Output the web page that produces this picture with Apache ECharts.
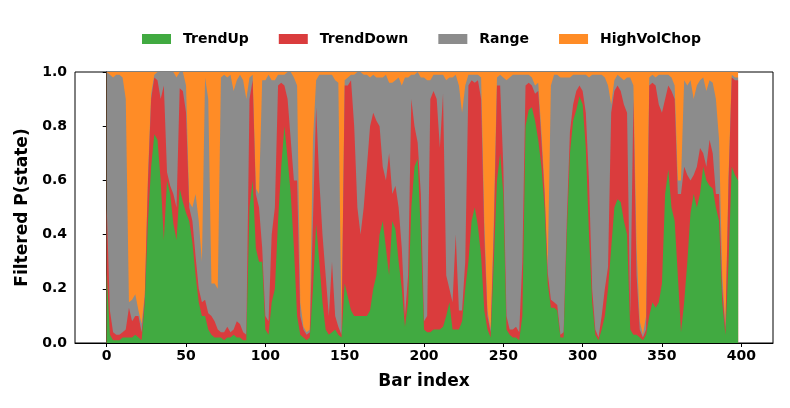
<!DOCTYPE html>
<html>
<head>
<meta charset="utf-8">
<script src="https://cdn.jsdelivr.net/npm/echarts@6/dist/echarts.min.js"></script>
<style>
  html, body { margin: 0; padding: 0; background: #fff; }
  #chart-container { width: 790px; height: 408px; }
</style>
</head>
<body>
<div id="chart-container"></div>
<script>
// bar index of each sample (every second bar)
const barIndex = [
  0,2,4,6,8,10,12,14,16,18,20,22,24,26,28,30,32,34,36,38,40,42,44,46,48,50,52,54,56,58,60,62,64,66,68,70,72,74,76,78,
  80,82,84,86,88,90,92,94,96,98,100,102,104,106,108,110,112,114,116,118,120,122,124,126,128,130,132,134,136,138,140,142,144,146,148,150,152,154,156,158,
  160,162,164,166,168,170,172,174,176,178,180,182,184,186,188,190,192,194,196,198,200,202,204,206,208,210,212,214,216,218,220,222,224,226,228,230,232,234,236,238,
  240,242,244,246,248,250,252,254,256,258,260,262,264,266,268,270,272,274,276,278,280,282,284,286,288,290,292,294,296,298,300,302,304,306,308,310,312,314,316,318,
  320,322,324,326,328,330,332,334,336,338,340,342,344,346,348,350,352,354,356,358,360,362,364,366,368,370,372,374,376,378,380,382,384,386,388,390,392,394,396,398
];

const trendUp = [
  0.26,0.03,0.01,0.01,0.01,0.02,0.02,0.02,0.02,0.03,0.02,0.01,0.15,0.45,0.65,0.77,0.75,0.60,0.38,0.60,0.55,0.44,0.38,0.57,0.52,0.48,0.45,0.37,0.25,0.15,0.10,0.10,0.05,0.03,0.02,0.02,0.02,0.01,0.02,0.02,
  0.03,0.02,0.02,0.01,0.01,0.50,0.60,0.35,0.30,0.30,0.05,0.03,0.15,0.20,0.45,0.65,0.80,0.68,0.55,0.35,0.10,0.03,0.02,0.01,0.02,0.20,0.44,0.30,0.15,0.05,0.03,0.04,0.05,0.03,0.02,0.22,0.17,0.12,0.10,0.10,
  0.10,0.10,0.10,0.12,0.20,0.25,0.40,0.45,0.35,0.25,0.45,0.42,0.30,0.20,0.06,0.15,0.50,0.65,0.68,0.40,0.05,0.04,0.04,0.05,0.05,0.05,0.06,0.10,0.15,0.05,0.05,0.05,0.08,0.20,0.30,0.45,0.50,0.43,0.32,0.12,
  0.05,0.02,0.30,0.60,0.70,0.55,0.05,0.03,0.02,0.02,0.01,0.10,0.80,0.86,0.87,0.82,0.75,0.65,0.50,0.22,0.13,0.13,0.12,0.02,0.02,0.40,0.70,0.82,0.86,0.91,0.88,0.72,0.40,0.15,0.03,0.01,0.05,0.10,0.20,0.35,
  0.50,0.53,0.52,0.45,0.40,0.05,0.03,0.03,0.02,0.01,0.03,0.10,0.15,0.13,0.15,0.22,0.55,0.64,0.50,0.45,0.25,0.04,0.15,0.30,0.48,0.55,0.50,0.55,0.65,0.60,0.58,0.57,0.50,0.45,0.15,0.03,0.30,0.65,0.62,0.60
];

const trendDown = [
  0.24,0.09,0.03,0.02,0.02,0.02,0.03,0.11,0.06,0.07,0.08,0.03,0.02,0.15,0.25,0.21,0.22,0.30,0.57,0.03,0.03,0.11,0.12,0.37,0.41,0.37,0.05,0.08,0.07,0.05,0.05,0.06,0.06,0.07,0.06,0.03,0.02,0.03,0.04,0.02,
  0.02,0.06,0.05,0.03,0.02,0.40,0.37,0.20,0.20,0.05,0.05,0.05,0.25,0.30,0.50,0.31,0.15,0.22,0.20,0.25,0.50,0.07,0.03,0.02,0.02,0.25,0.43,0.30,0.25,0.20,0.07,0.26,0.05,0.03,0.01,0.73,0.78,0.85,0.70,0.40,
  0.30,0.40,0.55,0.68,0.65,0.57,0.40,0.20,0.25,0.45,0.10,0.16,0.20,0.15,0.04,0.10,0.40,0.15,0.06,0.15,0.03,0.06,0.86,0.88,0.85,0.67,0.86,0.15,0.05,0.10,0.35,0.07,0.04,0.10,0.65,0.52,0.46,0.54,0.58,0.28,
  0.05,0.02,0.10,0.35,0.25,0.10,0.05,0.02,0.03,0.04,0.03,0.20,0.15,0.10,0.08,0.10,0.18,0.10,0.05,0.04,0.03,0.02,0.02,0.01,0.02,0.05,0.08,0.06,0.07,0.04,0.05,0.13,0.20,0.05,0.02,0.01,0.05,0.10,0.08,0.50,
  0.43,0.42,0.41,0.43,0.45,0.05,0.87,0.22,0.03,0.01,0.02,0.85,0.81,0.82,0.73,0.63,0.35,0.31,0.43,0.45,0.30,0.51,0.50,0.32,0.12,0.07,0.15,0.17,0.05,0.05,0.17,0.13,0.05,0.10,0.05,0.02,0.30,0.33,0.35,0.37
];

const rangeState = [
  0.50,0.87,0.94,0.96,0.96,0.94,0.85,0.02,0.08,0.08,0.02,0.03,0.01,0.02,0.02,0.01,0.03,0.10,0.05,0.37,0.42,0.45,0.48,0.06,0.07,0.10,0.02,0.05,0.23,0.25,0.15,0.82,0.79,0.12,0.14,0.15,0.94,0.95,0.92,0.95,
  0.88,0.89,0.92,0.93,0.87,0.08,0.02,0.02,0.05,0.62,0.87,0.91,0.57,0.47,0.04,0.03,0.04,0.10,0.25,0.38,0.35,0.05,0.01,0.01,0.01,0.30,0.10,0.39,0.59,0.74,0.89,0.69,0.87,0.90,0.02,0.02,0.03,0.02,0.19,0.50,
  0.60,0.49,0.34,0.18,0.14,0.16,0.18,0.33,0.39,0.26,0.41,0.39,0.48,0.60,0.88,0.73,0.09,0.19,0.26,0.43,0.90,0.87,0.07,0.06,0.09,0.27,0.07,0.72,0.78,0.83,0.59,0.83,0.73,0.65,0.04,0.02,0.03,0.02,0.08,0.05,
  0.02,0.01,0.05,0.03,0.04,0.33,0.87,0.93,0.94,0.93,0.95,0.69,0.04,0.03,0.03,0.03,0.03,0.03,0.02,0.02,0.79,0.84,0.85,0.95,0.94,0.53,0.20,0.11,0.06,0.04,0.06,0.14,0.38,0.79,0.94,0.97,0.89,0.78,0.67,0.03,
  0.04,0.04,0.05,0.09,0.13,0.88,0.05,0.10,0.03,0.01,0.05,0.03,0.03,0.03,0.11,0.14,0.09,0.04,0.05,0.05,0.05,0.05,0.32,0.33,0.37,0.28,0.30,0.25,0.28,0.28,0.22,0.26,0.35,0.20,0.05,0.01,0.02,0.01,0.01,0.01
];

const highVolChop = [
  0.00,0.01,0.02,0.01,0.01,0.02,0.10,0.85,0.84,0.82,0.88,0.93,0.82,0.38,0.08,0.01,0.00,0.00,0.00,0.00,0.00,0.00,0.02,0.00,0.00,0.05,0.48,0.50,0.45,0.55,0.70,0.02,0.10,0.78,0.78,0.80,0.02,0.01,0.02,0.01,
  0.07,0.03,0.01,0.03,0.10,0.02,0.01,0.43,0.45,0.03,0.03,0.01,0.03,0.03,0.01,0.01,0.01,0.00,0.00,0.02,0.05,0.85,0.94,0.96,0.95,0.25,0.03,0.01,0.01,0.01,0.01,0.01,0.03,0.04,0.95,0.03,0.02,0.01,0.01,0.00,
  0.00,0.01,0.01,0.02,0.01,0.02,0.02,0.02,0.01,0.04,0.04,0.03,0.02,0.05,0.02,0.02,0.01,0.01,0.00,0.02,0.02,0.03,0.03,0.01,0.01,0.01,0.01,0.03,0.02,0.02,0.01,0.05,0.15,0.05,0.01,0.01,0.01,0.01,0.02,0.55,
  0.88,0.95,0.55,0.02,0.01,0.02,0.03,0.02,0.01,0.01,0.01,0.01,0.01,0.01,0.02,0.05,0.04,0.22,0.43,0.72,0.05,0.01,0.01,0.02,0.02,0.02,0.02,0.01,0.01,0.01,0.01,0.01,0.02,0.01,0.01,0.01,0.01,0.02,0.05,0.12,
  0.03,0.01,0.02,0.03,0.02,0.02,0.05,0.65,0.92,0.97,0.90,0.02,0.01,0.02,0.01,0.01,0.01,0.01,0.02,0.05,0.40,0.40,0.03,0.05,0.03,0.10,0.05,0.03,0.02,0.07,0.03,0.04,0.10,0.25,0.75,0.94,0.38,0.01,0.02,0.02
];

const xTickValues = [0, 50, 100, 150, 200, 250, 300, 350, 400];

const seriesNames = ['TrendUp', 'TrendDown', 'Range', 'HighVolChop'];
const seriesColors = ['#41aa41', '#da3c3d', '#8c8c8c', '#ff8c26'];

var dom = document.getElementById('chart-container');
var myChart = echarts.init(dom, null, { renderer: 'canvas' });

// running totals so each band sits on top of the ones below
const layers = [trendUp, trendDown, rangeState, highVolChop];
const cumulative = [];
layers.forEach(function (vals, k) {
    cumulative.push(barIndex.map(function (x, i) {
        let s = 0;
        for (let j = 0; j <= k; j++) s += layers[j][i];
        return [x, +s.toFixed(4)];
    }));
});

const font = 'DejaVu Sans';

// draw from the top band down so lower bands cover the upper ones
const order = [3, 2, 1, 0];

var option = {
    animation: false,
    textStyle: { fontFamily: font },
    legend: {
        top: 27,
        left: 137,
        icon: 'rect',
        itemWidth: 29,
        itemHeight: 10,
        itemGap: 30,
        data: seriesNames,
        textStyle: {
            fontFamily: font,
            fontSize: 14,
            fontWeight: 'bold',
            color: '#000',
            padding: [0, 0, 0, 7]
        }
    },
    grid: {
        left: 75,
        right: 17,
        top: 72,
        bottom: 65,
        show: true,
        borderColor: '#000',
        borderWidth: 1
    },
    xAxis: {
        type: 'value',
        min: -20,
        max: 420,
        name: 'Bar index',
        nameLocation: 'middle',
        nameGap: 30,
        nameTextStyle: { fontFamily: font, fontSize: 17, fontWeight: 'bold', color: '#000' },
        axisLine: { onZero: false, lineStyle: { color: '#000' } },
        axisTick: { show: true, length: 4, customValues: xTickValues, lineStyle: { color: '#000' } },
        axisLabel: {
            customValues: xTickValues,
            margin: 6,
            fontFamily: font,
            fontSize: 14,
            fontWeight: 'bold',
            color: '#000'
        },
        splitLine: { show: false }
    },
    yAxis: {
        type: 'value',
        min: 0,
        max: 1,
        interval: 0.2,
        name: 'Filtered P(state)',
        nameLocation: 'middle',
        nameGap: 37,
        nameTextStyle: { fontFamily: font, fontSize: 17, fontWeight: 'bold', color: '#000' },
        axisLine: { show: true, lineStyle: { color: '#000' } },
        axisTick: { show: true, length: 4, lineStyle: { color: '#000' } },
        axisLabel: {
            margin: 8,
            fontFamily: font,
            fontSize: 14,
            fontWeight: 'bold',
            color: '#000',
            formatter: function (v) { return v.toFixed(1); }
        },
        splitLine: { show: false }
    },
    series: order.map(function (k) {
        return {
            name: seriesNames[k],
            type: 'line',
            symbol: 'none',
            smooth: false,
            itemStyle: { color: seriesColors[k] },
            lineStyle: { width: 0, color: seriesColors[k] },
            areaStyle: { color: seriesColors[k], opacity: 1, origin: 'start' },
            data: cumulative[k]
        };
    })
};

myChart.setOption(option);
window.addEventListener('resize', myChart.resize);
</script>
</body>
</html>
